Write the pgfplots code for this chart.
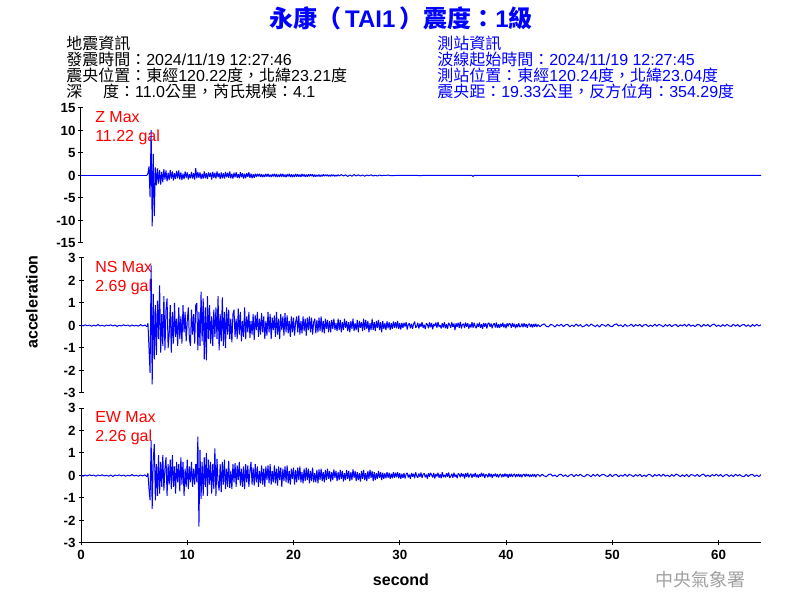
\documentclass[border=0pt]{standalone}
\usepackage{pgfplots}
\pgfplotsset{compat=1.18}
\usepackage{pgfplotstable}
\usepackage{fontspec}
\setmainfont{Liberation Sans}
\newfontfamily\cjk{Noto Sans CJK TC}
\definecolor{wave}{RGB}{0,0,255}
\definecolor{lbl}{RGB}{255,0,0}
\definecolor{wm}{RGB}{160,160,160}

% ---------- Z: strong part from 6.2 s, 0.1 s apart ----------
\pgfplotstableread[row sep=\\]{y\\
0\\0.5\\
2.0\\-4.8\\10.1\\-11.3\\4.8\\-9.0\\1.8\\-2.2\\1.6\\-1.8\\
1.2\\-2.0\\0.8\\-1.5\\1.4\\-0.9\\1.1\\-1.3\\0.6\\-1.0\\
1.2\\-0.7\\0.9\\-1.1\\0.5\\-0.8\\1.0\\-0.6\\1.1\\-0.9\\
0.7\\-1.0\\0.4\\-0.8\\0.9\\-0.5\\0.7\\-0.9\\0.3\\-0.6\\
0.8\\-0.7\\0.5\\-0.9\\1.6\\-0.6\\0.8\\-0.5\\0.7\\-0.8\\
0.4\\-0.7\\0.9\\-0.6\\0.5\\-0.8\\0.7\\-0.3\\0.6\\-0.9\\
0.8\\-0.5\\0.6\\-0.7\\0.9\\-0.4\\0.5\\-0.8\\0.7\\-0.6\\
0.5\\-0.7\\0.8\\-0.4\\0.6\\-0.5\\0.9\\-0.6\\0.4\\-0.7\\
0.6\\-0.4\\0.7\\-0.5\\0.3\\-0.6\\0.75\\-0.4\\0.5\\-0.7\\
0.4\\-0.6\\0.5\\-0.3\\0.7\\-0.5\\0.4\\-0.6\\0.3\\-0.5\\
0.4\\-0.3\\0.35\\-0.2\\0.4\\-0.35\\0.3\\-0.4\\0.2\\-0.3\\
0.35\\-0.25\\0.4\\-0.3\\0.2\\-0.35\\0.3\\-0.2\\0.4\\-0.3\\
0.3\\-0.35\\0.2\\-0.3\\0.4\\-0.25\\0.35\\-0.3\\0.2\\-0.4\\
0.3\\-0.2\\0.35\\-0.3\\0.25\\-0.35\\0.2\\-0.3\\0.35\\-0.25\\
0.3\\-0.25\\0.2\\-0.3\\0.35\\-0.2\\0.25\\-0.3\\0.2\\-0.25\\
0.25\\-0.2\\0.3\\-0.15\\0.25\\-0.3\\0.2\\-0.25\\0.15\\-0.2\\
0.2\\-0.25\\0.15\\-0.2\\0.25\\-0.15\\0.2\\-0.1\\0.2\\-0.2\\
0.15\\-0.2\\0.2\\-0.1\\0.15\\-0.2\\0.1\\-0.15\\0.2\\-0.1\\
}\zmain
% Z: coda from 24.3 s, 0.2 s apart
\pgfplotstableread[row sep=\\]{y\\
-0.1\\
0.2\\-0.1\\0.15\\-0.2\\0.1\\-0.15\\0.2\\-0.1\\0.15\\-0.1\\
0.1\\-0.15\\0.1\\-0.05\\0.15\\-0.1\\0.05\\-0.1\\0.1\\-0.05\\
0.05\\0\\0.1\\0\\-0.05\\0\\0.05\\0\\0\\0\\
0\\0.05\\0\\0\\0\\0\\0\\-0.05\\0\\0\\
}\zcoda

% ---------- NS: before the onset, 0 to 6.2 s, 0.2 s apart ----------
\pgfplotstableread[row sep=\\]{y\\
0.02\\-0.02\\0.03\\-0.01\\0.02\\-0.03\\0.01\\-0.02\\0.04\\-0.02\\
0.01\\-0.03\\0.02\\-0.01\\0.03\\-0.02\\0.02\\-0.04\\0.01\\-0.02\\
0.03\\-0.01\\0.02\\-0.03\\0.02\\-0.02\\0.01\\-0.03\\0.04\\-0.02\\
0.02\\-0.05\\
}\nspre
% NS: strong part from 6.2 s, 0.1 s apart
\pgfplotstableread[row sep=\\]{y\\
-0.05\\0.1\\
-1.0\\-2.1\\2.67\\-2.62\\1.4\\-1.5\\0.9\\-1.3\\1.1\\-0.6\\
1.78\\-1.2\\0.5\\-0.9\\1.3\\-1.1\\0.7\\1.2\\-1.0\\-0.4\\
0.9\\-1.2\\0.6\\-0.8\\1.0\\-0.5\\0.3\\-0.9\\0.8\\-0.6\\
0.4\\-0.8\\0.9\\-0.3\\0.6\\-0.7\\0.2\\0.8\\-0.6\\-0.9\\
0.7\\-0.4\\0.5\\-0.8\\0.9\\1.0\\-1.1\\0.6\\-0.9\\1.5\\
-0.7\\1.2\\-1.5\\0.8\\-1.55\\1.3\\-0.6\\0.9\\-0.8\\0.4\\
-0.9\\0.7\\-0.5\\0.8\\-0.6\\1.3\\-1.1\\0.5\\-0.7\\1.25\\
-0.9\\0.6\\-1.0\\0.8\\-0.4\\0.7\\-0.6\\0.3\\-0.75\\0.5\\
0.7\\-0.5\\0.3\\-0.6\\0.75\\-0.4\\0.6\\-0.7\\0.2\\-0.5\\
0.8\\-0.6\\0.4\\-0.3\\0.6\\-0.55\\0.2\\-0.4\\0.5\\-0.65\\
0.45\\-0.2\\0.6\\-0.5\\0.3\\-0.4\\0.55\\-0.3\\0.4\\-0.6\\
0.2\\-0.45\\0.6\\-0.3\\0.5\\-0.6\\0.35\\-0.2\\0.45\\-0.5\\
0.6\\-0.4\\0.3\\-0.6\\0.5\\-0.2\\0.4\\-0.45\\0.55\\-0.3\\
0.45\\-0.35\\0.2\\-0.5\\0.4\\-0.3\\0.35\\-0.45\\0.15\\0.4\\
-0.3\\0.45\\-0.4\\0.2\\-0.35\\0.4\\-0.25\\0.3\\-0.45\\0.35\\
-0.2\\0.4\\-0.3\\0.35\\-0.4\\0.15\\0.3\\-0.35\\0.25\\-0.3\\
0.35\\-0.25\\0.4\\-0.3\\0.2\\-0.35\\0.3\\-0.15\\0.25\\-0.3\\
0.2\\-0.3\\0.25\\-0.15\\0.3\\-0.2\\0.1\\-0.25\\0.3\\-0.2\\
0.25\\-0.3\\0.15\\-0.2\\0.3\\-0.1\\0.2\\-0.25\\0.15\\-0.3\\
0.2\\-0.15\\0.3\\-0.25\\0.1\\-0.2\\0.25\\-0.3\\0.2\\-0.1\\
0.15\\-0.25\\0.3\\-0.2\\0.25\\-0.15\\0.2\\-0.3\\0.1\\-0.2\\
0.3\\-0.2\\0.15\\-0.25\\0.2\\-0.1\\0.25\\-0.2\\0.15\\-0.3\\
0.2\\-0.15\\0.1\\-0.2\\0.18\\-0.12\\0.15\\-0.2\\0.1\\-0.15\\
0.18\\-0.1\\0.15\\-0.12\\0.2\\-0.15\\0.1\\-0.18\\0.12\\-0.1\\
}\nsmain
% NS: coda 30.3 to 43.0 s, 0.1 s apart
\pgfplotstableread[row sep=\\]{y\\
-0.1\\
0.12\\-0.05\\0.15\\-0.18\\0.04\\0.1\\-0.12\\0.08\\-0.15\\0.06\\
0.18\\-0.1\\-0.04\\0.12\\-0.14\\0.09\\-0.06\\0.15\\-0.11\\0.03\\
-0.16\\0.1\\0.05\\-0.12\\0.14\\-0.08\\0.11\\-0.17\\0.07\\-0.03\\
0.13\\-0.1\\0.16\\-0.06\\0.02\\-0.13\\0.1\\-0.09\\0.15\\-0.12\\
0.05\\-0.15\\0.12\\0.03\\-0.1\\0.14\\-0.07\\0.09\\-0.2\\0.1\\
-0.05\\0.12\\-0.1\\0.16\\-0.13\\0.04\\0.08\\-0.11\\0.13\\-0.06\\
0.1\\-0.14\\0.05\\-0.09\\0.15\\-0.1\\0.12\\-0.04\\-0.12\\0.09\\
-0.07\\0.13\\-0.1\\0.06\\-0.15\\0.11\\-0.05\\0.1\\-0.13\\0.08\\
0.12\\-0.06\\0.09\\-0.12\\0.04\\0.1\\-0.09\\0.13\\-0.1\\0.05\\
-0.11\\0.08\\-0.05\\0.12\\-0.09\\0.06\\-0.12\\0.1\\-0.04\\0.09\\
0.07\\-0.1\\0.11\\-0.06\\0.08\\-0.12\\0.05\\-0.08\\0.1\\-0.07\\
-0.04\\0.09\\-0.08\\0.1\\-0.06\\0.07\\-0.1\\0.05\\0.08\\-0.07\\
0.06\\-0.09\\0.07\\-0.05\\0.08\\-0.06\\0.04\\
}\nscoda
% NS: tail 43.0 to 64.0 s, 0.2 s apart
\pgfplotstableread[row sep=\\]{y\\
0.04\\
-0.05\\0.03\\0.07\\-0.04\\-0.06\\0.05\\0.02\\-0.07\\0.04\\-0.02\\
0.06\\-0.05\\0.03\\0.05\\-0.06\\0.02\\-0.04\\0.07\\-0.03\\0.04\\
-0.06\\-0.02\\0.05\\-0.04\\0.06\\0.01\\-0.05\\0.03\\-0.07\\0.05\\
0.02\\-0.04\\0.06\\-0.03\\-0.05\\0.04\\0.07\\-0.02\\0.03\\-0.06\\
0.05\\-0.03\\-0.01\\0.06\\-0.05\\0.04\\-0.02\\0.05\\-0.06\\0.03\\
0.04\\-0.05\\0.02\\-0.04\\0.06\\-0.03\\0.05\\0.01\\-0.06\\0.04\\
-0.03\\0.05\\-0.05\\0.02\\0.04\\-0.06\\0.03\\-0.02\\0.05\\-0.04\\
0.06\\-0.03\\0.02\\-0.05\\0.04\\0.03\\-0.06\\0.05\\-0.02\\0.04\\
-0.05\\0.03\\0.06\\-0.04\\0.02\\-0.05\\0.04\\-0.03\\0.05\\-0.02\\
-0.04\\0.06\\-0.03\\0.04\\-0.05\\0.02\\0.05\\-0.04\\0.03\\-0.06\\
0.04\\-0.03\\0.05\\-0.02\\0.03\\
}\nstail

% ---------- EW: before the onset, 0 to 6.2 s, 0.2 s apart ----------
\pgfplotstableread[row sep=\\]{y\\
0.01\\-0.03\\0.02\\-0.02\\0.03\\-0.01\\0.02\\-0.03\\0.02\\-0.01\\
0.03\\-0.02\\0.01\\-0.03\\0.02\\-0.04\\0.02\\-0.01\\0.03\\-0.02\\
0.02\\-0.03\\0.01\\-0.02\\0.04\\-0.02\\0.01\\-0.03\\0.02\\-0.02\\
0.03\\-0.05\\
}\ewpre
% EW: strong part from 6.2 s, 0.1 s apart
\pgfplotstableread[row sep=\\]{y\\
-0.05\\0.1\\
-0.6\\-1.1\\1.56\\-1.48\\0.7\\1.4\\-1.1\\0.5\\-0.9\\0.9\\
-0.8\\0.6\\-0.5\\0.9\\-0.67\\0.3\\0.8\\-0.9\\0.5\\-0.4\\
0.7\\-0.6\\0.9\\-0.5\\0.4\\-0.8\\0.6\\-0.3\\0.5\\-0.7\\
0.8\\-0.4\\0.6\\-0.9\\0.3\\-0.5\\0.7\\-0.6\\0.4\\-0.3\\
0.6\\-0.5\\0.3\\-0.4\\0.5\\-0.3\\1.73\\-2.27\\1.14\\-1.04\\
0.6\\-0.9\\0.8\\-0.5\\1.0\\-0.9\\0.7\\-0.4\\0.6\\-0.8\\
0.5\\-0.6\\1.2\\-0.9\\0.74\\-0.3\\-0.67\\0.5\\-0.74\\0.6\\
-0.4\\0.7\\-0.6\\0.3\\-0.5\\0.65\\-0.55\\0.2\\-0.6\\0.5\\
-0.3\\0.55\\-0.5\\0.45\\-0.2\\0.6\\-0.45\\0.3\\-0.5\\0.4\\
-0.6\\0.5\\-0.3\\0.45\\-0.5\\0.2\\0.6\\-0.4\\0.35\\-0.45\\
0.5\\-0.3\\0.4\\-0.5\\0.2\\-0.35\\0.45\\-0.4\\0.3\\-0.5\\
0.4\\-0.2\\0.45\\-0.35\\0.5\\-0.4\\0.2\\-0.3\\0.45\\-0.35\\
0.3\\-0.45\\0.4\\-0.2\\0.35\\-0.5\\0.3\\-0.25\\0.4\\-0.3\\
0.45\\-0.35\\0.2\\-0.4\\0.3\\-0.15\\0.35\\-0.4\\0.25\\-0.3\\
0.35\\-0.2\\0.4\\-0.3\\0.15\\-0.35\\0.3\\-0.25\\0.35\\-0.2\\
0.3\\-0.35\\0.2\\-0.25\\0.35\\-0.3\\0.1\\-0.3\\0.25\\-0.35\\
0.27\\-0.2\\0.3\\-0.25\\0.15\\-0.3\\0.25\\-0.2\\0.3\\-0.15\\
0.2\\-0.27\\0.15\\-0.2\\0.27\\-0.1\\0.2\\-0.25\\0.15\\-0.2\\
0.25\\-0.15\\0.2\\-0.27\\0.1\\-0.2\\0.25\\-0.15\\0.2\\-0.25\\
0.15\\-0.2\\0.27\\-0.1\\0.2\\-0.25\\0.15\\-0.2\\0.1\\-0.27\\
0.2\\-0.15\\0.25\\-0.2\\0.1\\-0.25\\0.2\\-0.15\\0.25\\-0.1\\
0.2\\-0.25\\0.15\\-0.2\\0.1\\-0.15\\0.2\\-0.1\\0.15\\-0.2\\
0.12\\-0.15\\0.1\\-0.12\\0.15\\-0.1\\0.12\\-0.15\\0.08\\-0.12\\
0.15\\-0.1\\0.12\\-0.08\\0.15\\-0.12\\0.1\\-0.15\\0.08\\-0.1\\
}\ewmain
% EW: coda 30.3 to 43.0 s, 0.1 s apart
\pgfplotstableread[row sep=\\]{y\\
-0.1\\
0.1\\-0.13\\0.06\\0.12\\-0.09\\0.04\\-0.15\\0.11\\-0.05\\0.08\\
-0.12\\0.14\\-0.03\\-0.1\\0.09\\-0.06\\0.13\\-0.11\\0.05\\0.1\\
-0.08\\0.04\\-0.14\\0.1\\-0.05\\0.12\\0.02\\-0.09\\0.11\\-0.13\\
0.07\\-0.04\\0.12\\-0.1\\0.06\\-0.12\\0.15\\-0.07\\0.03\\-0.09\\
0.1\\-0.05\\0.13\\-0.11\\-0.03\\0.08\\-0.1\\0.12\\-0.06\\0.04\\
-0.12\\0.09\\0.05\\-0.08\\0.11\\-0.04\\0.07\\-0.13\\0.1\\-0.06\\
0.12\\-0.09\\0.03\\0.08\\-0.1\\0.06\\-0.05\\0.11\\-0.08\\0.04\\
-0.1\\0.07\\-0.06\\0.12\\-0.04\\0.09\\-0.11\\0.05\\0.02\\-0.08\\
0.1\\-0.06\\0.08\\-0.1\\0.05\\-0.03\\0.09\\-0.07\\0.06\\-0.09\\
0.04\\0.07\\-0.08\\0.05\\-0.06\\0.09\\-0.04\\0.06\\-0.1\\0.07\\
-0.05\\0.08\\-0.06\\0.03\\0.07\\-0.08\\0.05\\-0.04\\0.07\\-0.06\\
0.05\\-0.07\\0.04\\0.06\\-0.05\\0.07\\-0.03\\0.05\\-0.06\\0.04\\
-0.05\\0.06\\-0.04\\0.05\\-0.07\\0.03\\0.05\\
}\ewcoda
% EW: tail 43.0 to 64.0 s, 0.2 s apart
\pgfplotstableread[row sep=\\]{y\\
0.05\\
-0.04\\0.06\\-0.02\\-0.05\\0.04\\0.07\\-0.03\\0.02\\-0.06\\0.04\\
0.05\\-0.04\\0.03\\-0.06\\0.02\\0.05\\-0.05\\0.04\\-0.02\\0.06\\
-0.03\\-0.05\\0.04\\0.02\\-0.06\\0.05\\-0.03\\0.06\\-0.04\\0.03\\
0.05\\-0.02\\-0.04\\0.06\\-0.05\\0.03\\0.04\\-0.06\\0.02\\-0.03\\
0.06\\-0.04\\0.05\\0.01\\-0.05\\0.04\\-0.03\\0.06\\-0.05\\0.02\\
-0.04\\0.05\\0.03\\-0.06\\0.04\\-0.02\\0.05\\-0.04\\0.06\\-0.03\\
0.02\\-0.05\\0.04\\-0.03\\0.06\\0.02\\-0.05\\0.03\\-0.04\\0.05\\
-0.06\\0.04\\0.02\\-0.03\\0.05\\-0.05\\0.03\\0.06\\-0.04\\0.02\\
-0.05\\0.04\\-0.02\\0.06\\-0.03\\0.05\\-0.06\\0.02\\0.04\\-0.04\\
0.03\\-0.05\\0.06\\-0.02\\0.04\\-0.03\\-0.05\\0.05\\-0.04\\0.03\\
0.05\\-0.04\\0.02\\-0.05\\0.04\\
}\ewtail

\pgfplotsset{
  seis/.style={
    scale only axis, width=510pt, height=101.25pt,
    xmin=0, xmax=64,
    tick align=outside, major tick length=3.75pt,
    tick style={line width=0.75pt, black},
    yticklabel style={font=\bfseries\fontsize{10}{10}\selectfont, inner xsep=2pt},
    xticklabel style={font=\bfseries\fontsize{10}{10}\selectfont},
  },
  plainlines/.style={
    axis line style={-, line width=0.75pt, black},
    x axis line style={-}, y axis line style={-},
  },
  trace/.style={wave, line width=0.75pt, line join=bevel},
}

\begin{document}
\begin{tikzpicture}
\path[use as bounding box] (0,0) rectangle (600pt,450pt);

% title and header
\node[wave, font=\bfseries\fontsize{18}{18}\selectfont] at (300.75pt,436.5pt)
  {{\cjk 永康（}\,TAI1\,{\cjk ）震度：}1{\cjk 級}};
\begin{scope}[every node/.style={anchor=west, inner sep=0pt, font=\fontsize{12}{12}\selectfont}]
\node at (49.5pt,417.75pt) {{\cjk 地震資訊}};
\node at (49.5pt,405.75pt) {{\cjk 發震時間：}2024/11/19 12:27:46};
\node at (49.5pt,393.75pt) {{\cjk 震央位置：東經}120.22{\cjk 度，北緯}23.21{\cjk 度}};
\node at (49.5pt,381.75pt) {{\cjk 深\hspace{1.3em}度：}11.0{\cjk 公里，芮氏規模：}4.1};
\node[wave] at (327.75pt,417.75pt) {{\cjk 測站資訊}};
\node[wave] at (327.75pt,405.75pt) {{\cjk 波線起始時間：}2024/11/19 12:27:45};
\node[wave] at (327.75pt,393.75pt) {{\cjk 測站位置：東經}120.24{\cjk 度，北緯}23.04{\cjk 度}};
\node[wave] at (327.75pt,381.75pt) {{\cjk 震央距：}19.33{\cjk 公里，反方位角：}354.29{\cjk 度}};
\end{scope}

% red maxima labels
\begin{scope}[every node/.style={anchor=west, inner sep=0pt, lbl, font=\fontsize{12}{12}\selectfont}]
\node at (71.25pt,362.25pt) {Z Max};
\node at (71.25pt,347.25pt) {11.22 gal};
\node at (71.25pt,249.75pt) {NS Max};
\node at (71.25pt,234.75pt) {2.69 gal};
\node at (71.25pt,137.25pt) {EW Max};
\node at (71.25pt,122.25pt) {2.26 gal};
\end{scope}

\node[rotate=90, font=\bfseries\fontsize{12}{12}\selectfont] at (24pt,223.5pt) {acceleration};
\node[font=\bfseries\fontsize{12}{12}\selectfont] at (300.75pt,15pt) {second};
\node[wm, font=\fontsize{13.5}{13.5}\selectfont] at (525pt,15pt) {\cjk 中央氣象署};

% Z
\begin{axis}[seis, at={(60.75pt,267.75pt)}, anchor=south west,
  axis y line=left, axis x line=none, plainlines, xtick=\empty,
  ymin=-15, ymax=15, ytick={-15,-10,-5,0,5,10,15},
  yticklabels={-15,-10,-5,0,5,10,15}]
\addplot[trace] coordinates {(0,0) (6.2,0)};
\addplot[trace] table[x expr=6.2+\coordindex*0.1, y index=0] {\zmain};
\addplot[trace] table[x expr=24.3+\coordindex*0.2, y index=0] {\zcoda};
\addplot[trace] coordinates {(32.3,0) (36.8,0) (36.9,-0.2) (37.0,0) (46.7,0) (46.8,-0.2) (46.9,0) (64,0)};
\end{axis}

% NS
\begin{axis}[seis, at={(60.75pt,155.25pt)}, anchor=south west,
  axis y line=left, axis x line=none, plainlines, xtick=\empty,
  ymin=-3, ymax=3, ytick={-3,-2,-1,0,1,2,3},
  yticklabels={-3,-2,-1,0,1,2,3}]
\addplot[trace] table[x expr=\coordindex*0.2, y index=0] {\nspre};
\addplot[trace] table[x expr=6.2+\coordindex*0.1, y index=0] {\nsmain};
\addplot[trace] table[x expr=30.3+\coordindex*0.1, y index=0] {\nscoda};
\addplot[trace] table[x expr=43.0+\coordindex*0.2, y index=0] {\nstail};
\end{axis}

% EW
\begin{axis}[seis, at={(60.75pt,42.75pt)}, anchor=south west,
  axis y line=left, axis x line=bottom, plainlines,
  xtick={0,10,20,30,40,50,60},
  xticklabels={0,10,20,30,40,50,60},
  ymin=-3, ymax=3, ytick={-3,-2,-1,0,1,2,3},
  yticklabels={-3,-2,-1,0,1,2,3}]
\addplot[trace] table[x expr=\coordindex*0.2, y index=0] {\ewpre};
\addplot[trace] table[x expr=6.2+\coordindex*0.1, y index=0] {\ewmain};
\addplot[trace] table[x expr=30.3+\coordindex*0.1, y index=0] {\ewcoda};
\addplot[trace] table[x expr=43.0+\coordindex*0.2, y index=0] {\ewtail};
\end{axis}
\end{tikzpicture}
\end{document}
